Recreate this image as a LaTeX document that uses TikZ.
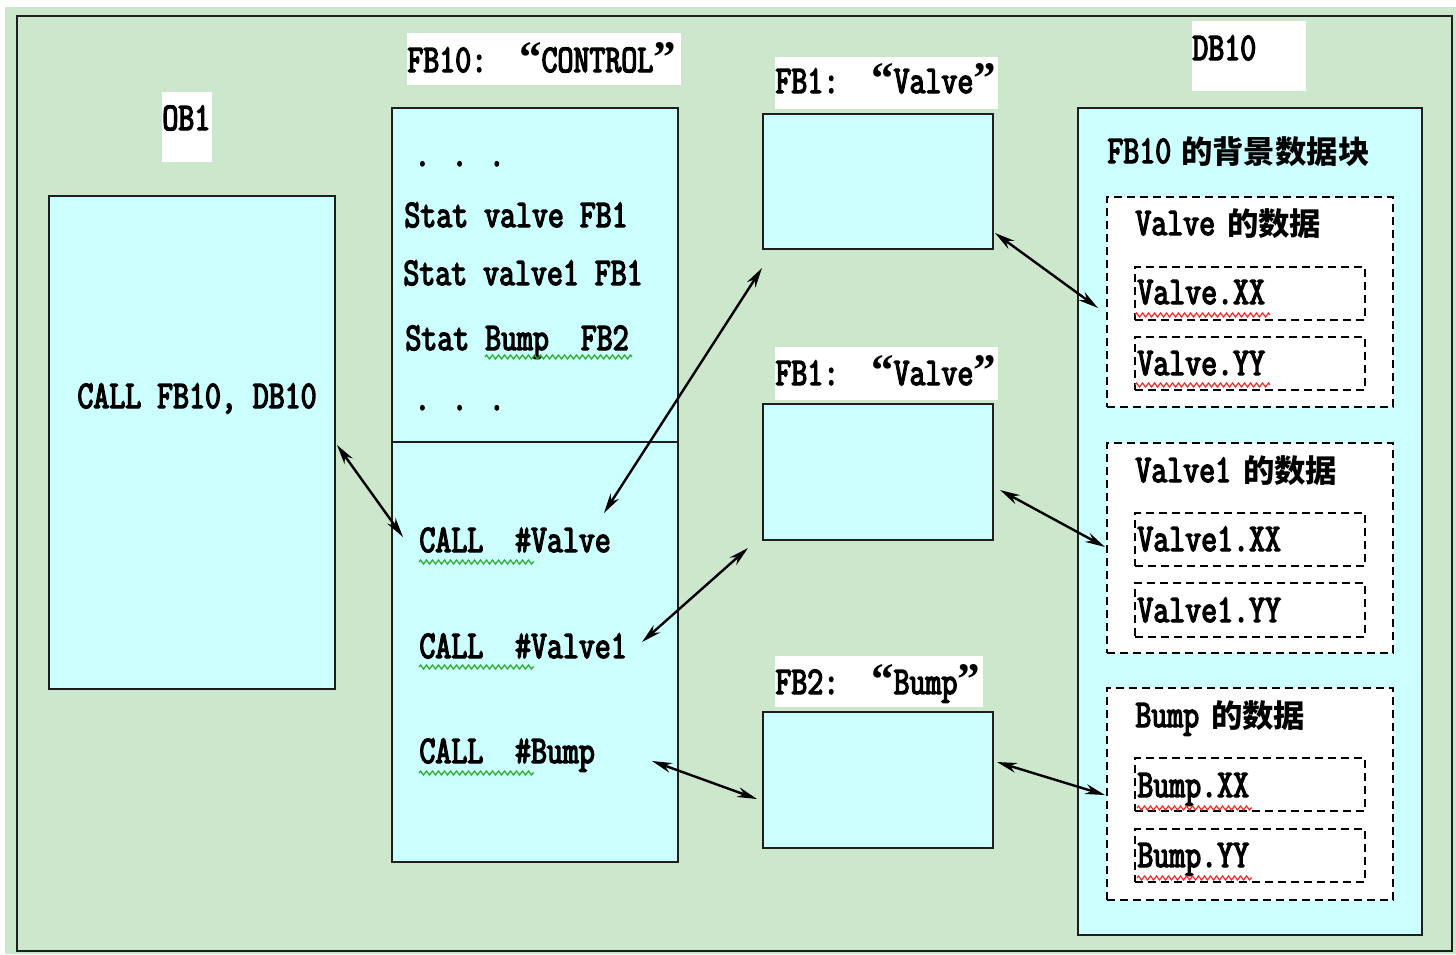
\documentclass[tikz,border=0pt]{standalone}
\usepackage{fontspec}
\setmainfont{Latin Modern Mono}[FakeStretch=0.79, FakeBold=3.5]
\newfontfamily\cjk{Noto Sans CJK SC}[Scale=0.80]
\newfontfamily\qf{Liberation Serif}[Scale=1.15]
\usetikzlibrary{arrows.meta,fit,decorations.pathmorphing}
\definecolor{bggreen}{RGB}{205,231,205}
\definecolor{boxcyan}{RGB}{204,255,255}
\definecolor{edgec}{RGB}{30,30,30}
\definecolor{sqgreen}{RGB}{40,170,40}
\definecolor{sqred}{RGB}{240,40,40}
\newcommand{\zh}[1]{{\cjk\bfseries #1}}
\newcommand{\oq}{{\qf\bfseries “}}
\newcommand{\cq}{{\qf\bfseries ”}}
\begin{document}
\begin{tikzpicture}[x=0.5pt,y=-0.5pt,
  box/.style={draw=edgec, line width=1pt, fill=boxcyan, inner sep=0pt},
  grp/.style={draw=black, line width=1pt, dash pattern=on 4pt off 2.5pt, fill=white, inner sep=0pt},
  subbox/.style={draw=black, line width=1pt, dash pattern=on 4pt off 2.5pt, inner sep=0pt},
  lab/.style={fill=white, inner sep=0pt},
  txt/.style={font=\fontsize{19.6pt}{24pt}\selectfont, inner sep=0pt, anchor=base west},
  dar/.style={{Stealth[length=10pt,width=5pt]}-{Stealth[length=10pt,width=5pt]}, line width=1.2pt, black},
  sqg/.style={draw=sqgreen, line width=0.6pt, decorate, decoration={zigzag, segment length=3pt, amplitude=1pt}},
  sqr/.style={draw=sqred, line width=0.6pt, decorate, decoration={zigzag, segment length=3pt, amplitude=1pt}}
]
\useasboundingbox (0,0) rectangle (1456,954);
\fill[white] (0,0) rectangle (1456,954);
\fill[bggreen] (5,7) rectangle (1456,954);
\draw[edgec, line width=1pt] (17,16) rectangle (1452,951);

% ---------- OB1 ----------
\node[lab, fit={(162,92) (212,162)}] (ob1lab) {};
\node[txt] (ob1t) at (162,130) {OB1};
\node[box, fit={(49,196) (335,689)}] (ob1) {};
\node[txt] (callfb) at (77,408) {CALL FB10, DB10};

% ---------- FB10 ----------
\node[lab, fit={(407,33) (681,85)}] (fb10lab) {};
\node[txt] (fb10t) at (407,72) {FB10:\ \ \oq CONTROL\cq};
\node[box, fit={(392,108) (678,862)}] (fb10) {};
\draw[edgec, line width=1pt] (392,442) -- (678,442);
\node[txt] (dots1) at (414,166) {. . .};
\node[txt] (st1) at (404,227) {Stat valve FB1};
\node[txt] (st2) at (403,285) {Stat valve1 FB1};
\node[txt] (st3) at (405,350) {Stat Bump\ \ FB2};
\node[txt] (dots2) at (414,410) {. . .};
\node[txt] (c1) at (419,552) {CALL\ \ \#Valve};
\node[txt] (c2) at (419,658) {CALL\ \ \#Valve1};
\node[txt] (c3) at (419,763) {CALL\ \ \#Bump};
\draw[sqg] (485,357) -- (632,357);
\draw[sqg] (419,562) -- (534,562);
\draw[sqg] (419,667) -- (534,667);
\draw[sqg] (419,773) -- (534,773);

% ---------- FB1 / FB2 ----------
\node[lab, fit={(775,57) (998,109)}] (fb1alab) {};
\node[txt] (fb1at) at (775,93) {FB1:\ \ \oq Valve\cq};
\node[box, fit={(763,114) (993,249)}] (fb1a) {};
\node[lab, fit={(775,347) (998,400)}] (fb1blab) {};
\node[txt] (fb1bt) at (775,385) {FB1:\ \ \oq Valve\cq};
\node[box, fit={(763,404) (993,540)}] (fb1b) {};
\node[lab, fit={(775,656) (983,707)}] (fb2lab) {};
\node[txt] (fb2t) at (775,694) {FB2:\ \ \oq Bump\cq};
\node[box, fit={(763,712) (993,848)}] (fb2) {};

% ---------- DB10 ----------
\node[lab, fit={(1192,21) (1306,91)}] (db10lab) {};
\node[txt] (db10t) at (1192,60) {DB10};
\node[box, fit={(1078,108) (1422,935)}] (db10) {};
\node[txt] (db10title) at (1107,163) {FB10\hspace{5pt}\zh{的背景数据块}};

\node[grp, fit={(1107,197) (1393,407)}] (g1) {};
\node[txt] (g1t) at (1135,235) {Valve\hspace{6pt}\zh{的数据}};
\node[subbox, fit={(1135,267) (1365,320)}] (g1a) {};
\node[txt] (g1at) at (1137,304) {Valve.XX};
\node[subbox, fit={(1135,337) (1365,390)}] (g1b) {};
\node[txt] (g1bt) at (1137,375) {Valve.YY};
\draw[sqr] (1135,315) -- (1270,315);
\draw[sqr] (1135,385) -- (1270,385);

\node[grp, fit={(1107,443) (1393,653)}] (g2) {};
\node[txt] (g2t) at (1135,482) {Valve1\hspace{6pt}\zh{的数据}};
\node[subbox, fit={(1135,513) (1365,566)}] (g2a) {};
\node[txt] (g2at) at (1137,551) {Valve1.XX};
\node[subbox, fit={(1135,583) (1365,637)}] (g2b) {};
\node[txt] (g2bt) at (1137,622) {Valve1.YY};

\node[grp, fit={(1107,688) (1393,900)}] (g3) {};
\node[txt] (g3t) at (1135,727) {Bump\hspace{6pt}\zh{的数据}};
\node[subbox, fit={(1135,758) (1365,811)}] (g3a) {};
\node[txt] (g3at) at (1137,797) {Bump.XX};
\node[subbox, fit={(1135,829) (1365,882)}] (g3b) {};
\node[txt] (g3bt) at (1137,867) {Bump.YY};
\draw[sqr] (1137,808) -- (1252,808);
\draw[sqr] (1137,878) -- (1252,878);

% ---------- connectors ----------
\coordinate (a1s) at (337,445);  \coordinate (a1e) at (403,537);
\coordinate (a2s) at (604,513);  \coordinate (a2e) at (762,268);
\coordinate (a3s) at (642,642);  \coordinate (a3e) at (748,548);
\coordinate (a4s) at (652,761);  \coordinate (a4e) at (757,799);
\coordinate (a5s) at (995,233);  \coordinate (a5e) at (1098,308);
\coordinate (a6s) at (1000,490); \coordinate (a6e) at (1105,547);
\coordinate (a7s) at (997,762);  \coordinate (a7e) at (1105,795);
\draw[dar] (a1s) -- (a1e);
\draw[dar] (a2s) -- (a2e);
\draw[dar] (a3s) -- (a3e);
\draw[dar] (a4s) -- (a4e);
\draw[dar] (a5s) -- (a5e);
\draw[dar] (a6s) -- (a6e);
\draw[dar] (a7s) -- (a7e);
\end{tikzpicture}
\end{document}
